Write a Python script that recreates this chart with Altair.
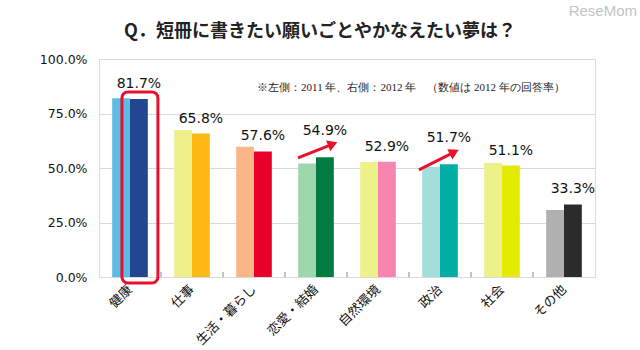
import math
import altair as alt
import pandas as pd

# ---------------- data ----------------
categories = ["健康", "仕事", "生活・暮らし", "恋愛・結婚", "自然環境", "政治", "社会", "その他"]
values_2011 = [82.0, 67.4, 59.8, 52.1, 52.7, 50.6, 52.3, 30.7]
values_2012 = [81.7, 65.8, 57.6, 54.9, 52.9, 51.7, 51.1, 33.3]
colors_2011 = ["#5bbde4", "#eef08a", "#fbb687", "#9ed6ae", "#eef08a", "#a4dedb", "#eef08a", "#b0b0b0"]
colors_2012 = ["#22468f", "#fdb813", "#e8002a", "#007c42", "#f785b0", "#00aea5", "#e4eb00", "#2b2b2b"]
years = ["2011", "2012"]
y_ticks = [0, 25, 50, 75, 100]
arrow_categories = ["恋愛・結婚", "政治"]
title_text = "Q．短冊に書きたい願いごとやかなえたい夢は？"
note_text = "※左側：2011 年、右側：2012 年　（数値は 2012 年の回答率）"
watermark = "ReseMom"

# annotation geometry in data units (x: category index 0..8, y: percent)
arrow_x0 = [3.21, 5.16]
arrow_y0 = [54.6, 49.1]
arrow_x1 = [3.77, 5.73]
arrow_y1 = [61.0, 57.3]
highlight_x = [0.37, 0.95]
highlight_y = [-2.75, 84.9]
note_pos = [2.55, 86.7]

W, H = 496, 218
RED = "#e8112d"

# ---------------- tables ----------------
rows = []
for i, c in enumerate(categories):
    rows.append(dict(cat=c, year="2011", value=values_2011[i], key=c + "2011"))
    rows.append(dict(cat=c, year="2012", value=values_2012[i], key=c + "2012"))
bars_df = pd.DataFrame(rows)
color_domain = [c + y for c in categories for y in years]
color_range = []
for i in range(len(categories)):
    color_range += [colors_2011[i], colors_2012[i]]

labels_df = bars_df[bars_df["year"] == "2012"].copy()
labels_df["label"] = labels_df["value"].map(lambda v: f"{v:.1f}%")

arrows = []
for i in range(len(arrow_x0)):
    ang = math.degrees(math.atan2((arrow_y1[i] - arrow_y0[i]) * H / 100.0,
                                  (arrow_x1[i] - arrow_x0[i]) * W / len(categories)))
    arrows.append(dict(x0=arrow_x0[i], y0=arrow_y0[i], x1=arrow_x1[i], y1=arrow_y1[i],
                       angle=90 - ang))
arrows_df = pd.DataFrame(arrows)

ticks_df = pd.DataFrame(dict(x=list(range(1, len(categories))), y0=0, y1=2.3))
hl_df = pd.DataFrame([dict(x0=highlight_x[0], x1=highlight_x[1], y0=highlight_y[0], y1=highlight_y[1])])
note_df = pd.DataFrame([dict(x=note_pos[0], y=note_pos[1], t=note_text)])

# ---------------- encodings ----------------
y_scale = alt.Scale(domain=[0, 100], nice=False, zero=True)
x_band = alt.X("cat:N", sort=categories,
               scale=alt.Scale(paddingInner=0, paddingOuter=0),
               axis=alt.Axis(title=None, labelAngle=-45, labelAlign="right",
                             labelBaseline="middle", labelFontSize=13,
                             labelFont="Noto Sans CJK JP", labelColor="#111",
                             ticks=False, domain=False, labelPadding=10))
x_off = alt.XOffset("year:N", sort=years, scale=alt.Scale(paddingOuter=0.74, paddingInner=0))

bars = alt.Chart(bars_df).mark_bar().encode(
    x=x_band,
    xOffset=x_off,
    y=alt.Y("value:Q", scale=y_scale,
            axis=alt.Axis(title=None, values=y_ticks,
                          labelExpr="format(datum.value, '.1f') + '%'",
                          labelFont="DejaVu Sans", labelFontSize=12.5, labelColor="#111",
                          labelPadding=12, ticks=False, domain=False,
                          gridColor="#d9d9d9", gridWidth=1)),
    color=alt.Color("key:N", scale=alt.Scale(domain=color_domain, range=color_range), legend=None),
)

labels_normal = alt.Chart(labels_df).transform_filter(
    ~alt.FieldOneOfPredicate(field="cat", oneOf=arrow_categories)
).mark_text(font="DejaVu Sans", fontSize=14, color="#111", baseline="middle", dy=-15).encode(
    x=alt.X("cat:N", sort=categories), xOffset=alt.XOffset("year:N", sort=years),
    y=alt.Y("value:Q", scale=y_scale), text="label:N")

labels_raised = alt.Chart(labels_df).transform_filter(
    alt.FieldOneOfPredicate(field="cat", oneOf=arrow_categories)
).mark_text(font="DejaVu Sans", fontSize=14, color="#111", baseline="middle", dy=-26).encode(
    x=alt.X("cat:N", sort=categories), xOffset=alt.XOffset("year:N", sort=years),
    y=alt.Y("value:Q", scale=y_scale), text="label:N")

band_layer = alt.layer(bars, labels_normal, labels_raised)

xq = alt.Scale(domain=[0, len(categories)], nice=False, zero=False)

tick_marks = alt.Chart(ticks_df).mark_rule(color="#888", strokeWidth=1).encode(
    x=alt.X("x:Q", scale=xq, axis=None), y=alt.Y("y0:Q", scale=y_scale), y2="y1:Q")

highlight = alt.Chart(hl_df).mark_rect(fillOpacity=0, stroke=RED, strokeWidth=3, cornerRadius=6).encode(
    x=alt.X("x0:Q", scale=xq, axis=None), x2="x1:Q",
    y=alt.Y("y0:Q", scale=y_scale), y2="y1:Q")

arrow_lines = alt.Chart(arrows_df).mark_rule(color=RED, strokeWidth=3).encode(
    x=alt.X("x0:Q", scale=xq, axis=None), x2="x1:Q",
    y=alt.Y("y0:Q", scale=y_scale), y2="y1:Q")

arrow_heads = alt.Chart(arrows_df).mark_point(shape="triangle-up", filled=True, color=RED,
                                              opacity=1, size=130).encode(
    x=alt.X("x1:Q", scale=xq, axis=None), y=alt.Y("y1:Q", scale=y_scale),
    angle=alt.Angle("angle:Q", scale=None))

note = alt.Chart(note_df).mark_text(font="Liberation Serif", fontSize=11, color="#222",
                                    align="left", baseline="middle").encode(
    x=alt.X("x:Q", scale=xq, axis=None), y=alt.Y("y:Q", scale=y_scale), text="t:N")

mark_wm = alt.Chart(pd.DataFrame([dict(t=watermark)])).mark_text(
    font="Liberation Sans", fontSize=15, color="#c4c4c4", align="right", baseline="middle"
).encode(x=alt.value(W + 42), y=alt.value(-48), text="t:N")

title_mark = alt.Chart(pd.DataFrame([dict(t=title_text)])).mark_text(
    font="Noto Sans CJK JP", fontSize=18, fontWeight="bold", color="#222",
    align="center", baseline="middle"
).encode(x=alt.value(221), y=alt.value(-27), text="t:N")

quant_layer = alt.layer(tick_marks, highlight, arrow_lines, arrow_heads, note, mark_wm, title_mark)

chart = alt.layer(band_layer, quant_layer).resolve_scale(x="independent").properties(
    width=W, height=H,
    autosize=alt.AutoSizeParams(type="none"),
    padding={"left": 99, "top": 59, "right": 45, "bottom": 73},
).configure_view(stroke="#808080", strokeWidth=1.5).configure(background="white")

chart.save("out.html", embed_options={"renderer": "svg", "actions": False})
